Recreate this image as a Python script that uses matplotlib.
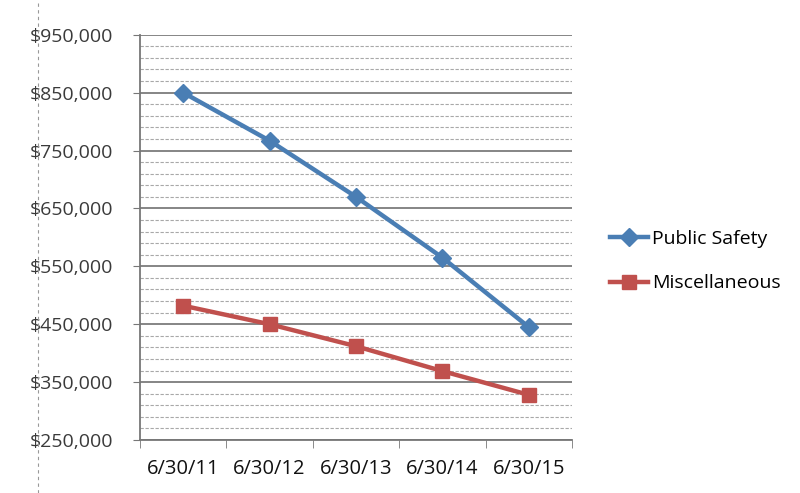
import numpy as np
import matplotlib
matplotlib.use("Agg")
import matplotlib.pyplot as plt
from matplotlib.lines import Line2D
from matplotlib.ticker import FuncFormatter

dates = ["6/30/11", "6/30/12", "6/30/13", "6/30/14", "6/30/15"]
public_safety = [850000, 767000, 670000, 565000, 445000]
miscellaneous = [482000, 450000, 412000, 369000, 328000]

BLUE = "#4a7eb4"
RED = "#c0504d"

plt.rcParams["font.family"] = ["Open Sans", "DejaVu Sans"]

fig = plt.figure(figsize=(8, 4.93), dpi=100)
ax = fig.add_axes([0.175, 0.1075, 0.54, 0.822])

x = np.arange(len(dates))
ax.plot(x, public_safety, color=BLUE, lw=3.2, marker="D", ms=9,
        label="Public Safety", zorder=3)
ax.plot(x, miscellaneous, color=RED, lw=3.2, marker="s", ms=10,
        label="Miscellaneous", zorder=3)

ax.set_xlim(-0.5, len(dates) - 0.5)
ax.set_ylim(250000, 950000)

ax.set_yticks(np.arange(250000, 950001, 100000))
ax.set_yticks(np.arange(250000, 950001, 20000), minor=True)
ax.yaxis.set_major_formatter(FuncFormatter(lambda v, _: f"${v:,.0f}"))
ax.grid(which="major", axis="y", color="#858585", lw=1.4)
ax.grid(which="minor", axis="y", color="#a8a8a8", lw=0.8, ls=(0, (3, 1.5)))
ax.set_axisbelow(True)

ax.set_xticks(x)
ax.set_xticklabels(dates)
ax.set_xticks(np.arange(-0.5, len(dates)), minor=True)
ax.tick_params(axis="x", which="major", length=0, pad=14, labelsize=14.5,
               labelcolor="#111111")
ax.tick_params(axis="x", which="minor", length=6, color="#777777")
ax.tick_params(axis="y", which="major", length=5, color="#777777",
               labelsize=14, labelcolor="#3a3a3a", pad=14)
ax.tick_params(axis="y", which="minor", length=0)

for side in ["top", "right"]:
    ax.spines[side].set_visible(False)
for side in ["left", "bottom"]:
    ax.spines[side].set_color("#777777")
    ax.spines[side].set_linewidth(1.3)

fig.legend(loc="center left", bbox_to_anchor=(0.74, 0.47), frameon=False,
           fontsize=14, handlelength=2.0, labelspacing=1.35, handletextpad=0.2)

# scanned page border on the left
fig.add_artist(Line2D([0.048, 0.048], [0.0, 1.0], color="#999999", lw=0.8,
                      ls=(0, (3, 3))))

fig.savefig("out.png", dpi=100)
